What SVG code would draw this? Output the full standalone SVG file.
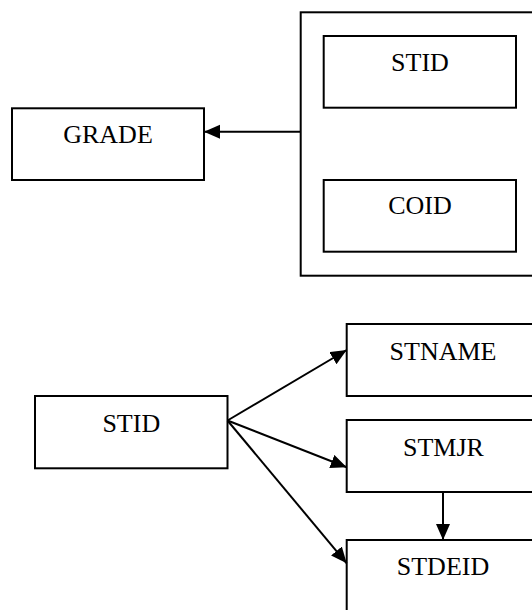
<svg xmlns="http://www.w3.org/2000/svg" width="532" height="610" viewBox="0 0 532 610">
<style>
.box{fill:#fff;stroke:#000;stroke-width:2}
.lbl{font-family:"Liberation Serif","Times New Roman",serif;font-size:26px;fill:#000;text-anchor:middle}
.edge{stroke:#000;stroke-width:2;fill:none}
</style>
<defs>
<marker id="arr" markerUnits="userSpaceOnUse" markerWidth="18" markerHeight="16" refX="16" refY="7" orient="auto">
<path d="M0,0 L16,7 L0,14 Z" fill="#000"/>
</marker>
</defs>
<rect width="532" height="610" fill="#fff"/>
<g id="composite">
<rect class="box" x="300.7" y="12.3" width="250" height="263.4"/>
</g>
<g id="stid-top">
<rect class="box" x="323.7" y="36" width="192.3" height="71.7"/>
<text class="lbl" x="420" y="71">STID</text>
</g>
<g id="coid">
<rect class="box" x="323.7" y="180" width="192.3" height="71.7"/>
<text class="lbl" x="420" y="214">COID</text>
</g>
<g id="grade">
<rect class="box" x="12" y="108.3" width="192" height="71.7"/>
<text class="lbl" x="108" y="142.7">GRADE</text>
</g>
<g id="stid">
<rect class="box" x="35" y="396" width="192.5" height="72.3"/>
<text class="lbl" x="131.3" y="432.3">STID</text>
</g>
<g id="stname">
<rect class="box" x="346.7" y="324" width="192.6" height="72"/>
<text class="lbl" x="443" y="360">STNAME</text>
</g>
<g id="stmjr">
<rect class="box" x="346.7" y="420" width="192.6" height="72"/>
<text class="lbl" x="443.5" y="456">STMJR</text>
</g>
<g id="stdeid">
<rect class="box" x="346.7" y="540" width="192.6" height="80"/>
<text class="lbl" x="443" y="575">STDEID</text>
</g>
<g id="connectors">
<line class="edge" x1="300.7" y1="131.7" x2="204" y2="131.7" marker-end="url(#arr)"/>
<line class="edge" x1="227.5" y1="420.5" x2="346.7" y2="350" marker-end="url(#arr)"/>
<line class="edge" x1="227.5" y1="420.5" x2="346.7" y2="467.3" marker-end="url(#arr)"/>
<line class="edge" x1="227.5" y1="420.5" x2="346.7" y2="563.3" marker-end="url(#arr)"/>
<line class="edge" x1="443" y1="492" x2="443" y2="540" marker-end="url(#arr)"/>
</g>
</svg>
